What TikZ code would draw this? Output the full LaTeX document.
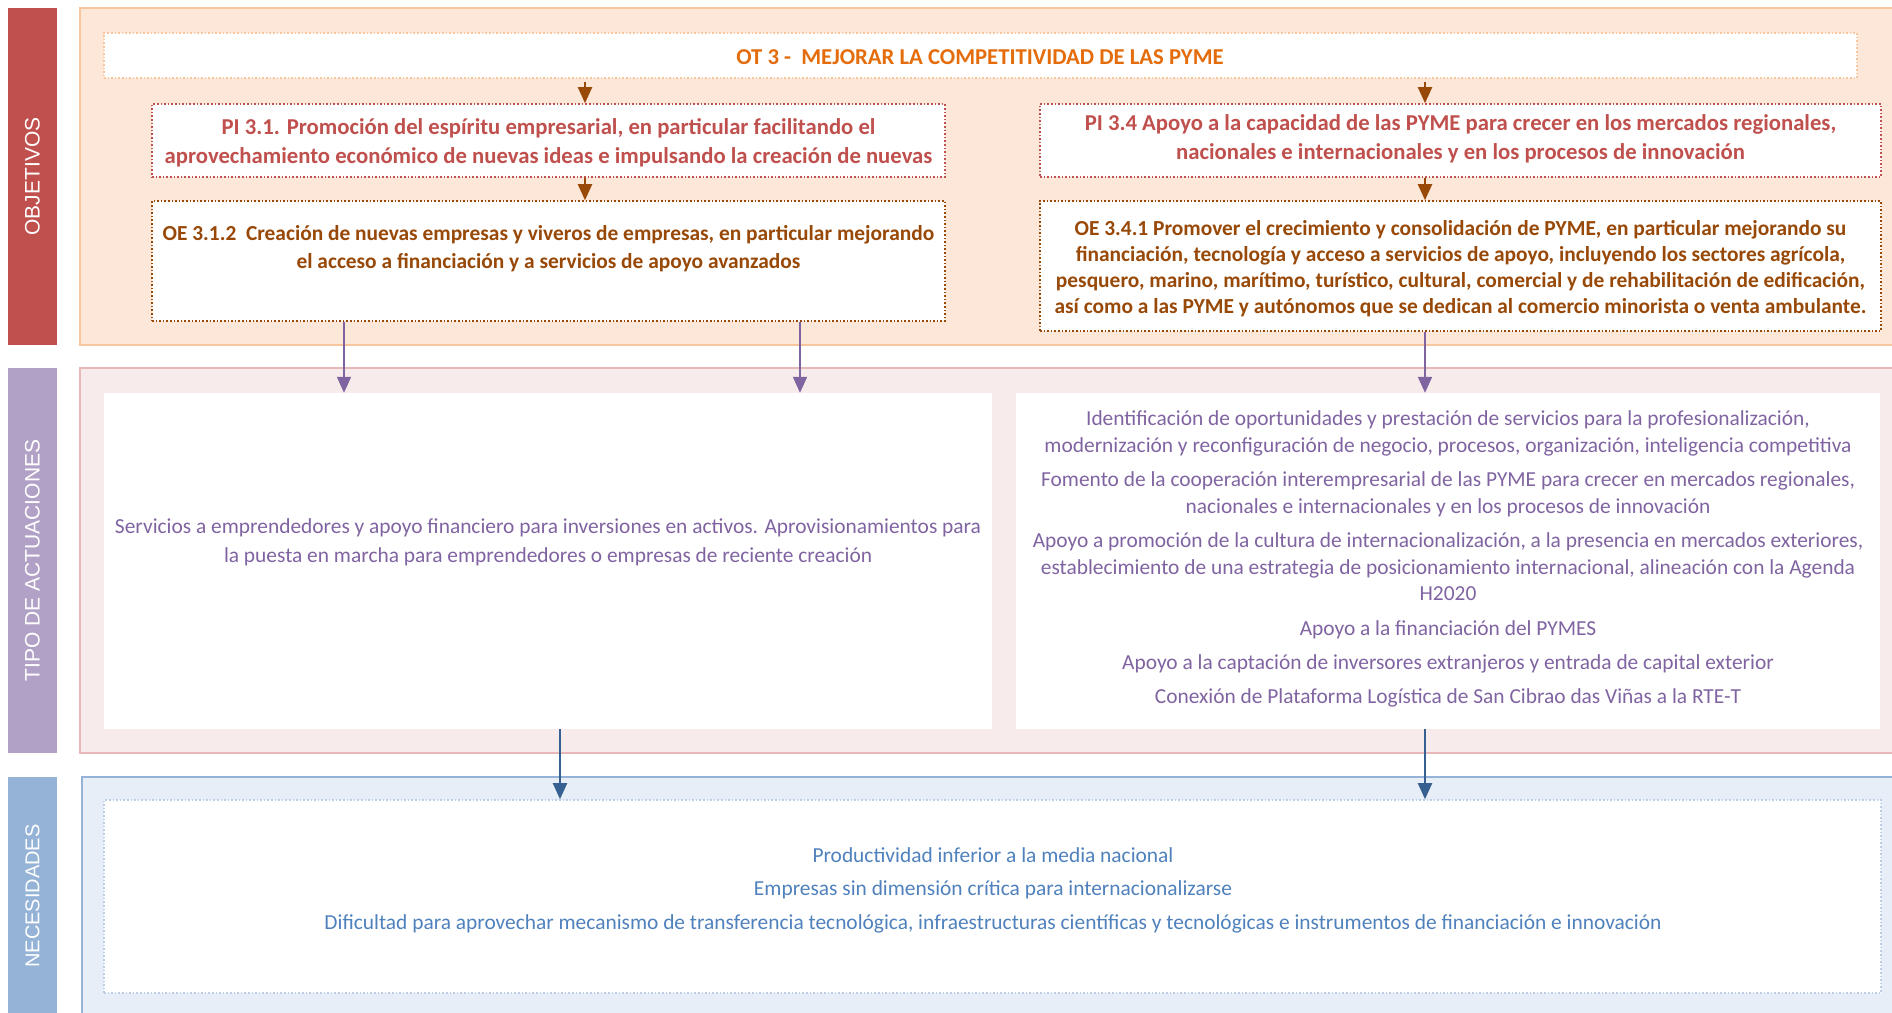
\documentclass[tikz,border=0pt]{standalone}
\usepackage{fontspec}
\setmainfont{Carlito}
\newfontfamily\labelfont{Liberation Sans}
\usetikzlibrary{arrows.meta,fit}
\definecolor{redbar}{HTML}{C0504D}
\definecolor{purplebar}{HTML}{B2A1C7}
\definecolor{bluebar}{HTML}{95B3D7}
\definecolor{objfill}{HTML}{FCE7D9}
\definecolor{objline}{HTML}{F9C59C}
\definecolor{actfill}{HTML}{F8EBEB}
\definecolor{actline}{HTML}{E6B9B8}
\definecolor{necfill}{HTML}{E7EEF7}
\definecolor{necline}{HTML}{95B3D7}
\definecolor{otcol}{HTML}{E46C0A}
\definecolor{otline}{HTML}{F9C59C}
\definecolor{picol}{HTML}{C0504D}
\definecolor{oecol}{HTML}{984807}
\definecolor{actcol}{HTML}{8064A2}
\definecolor{neccol}{HTML}{4F81BD}
\definecolor{necdot}{HTML}{B9CDE5}
\definecolor{bluearr}{HTML}{376092}
\tikzset{
  panel/.style={inner sep=0pt, line width=2.5pt},
  sidebar/.style={inner sep=0pt, draw=none},
  sidelabel/.style={rotate=90, text=white, font=\labelfont\fontsize{21}{21}\selectfont},
  dotbox/.style={inner sep=0pt, fill=white, dotted, line width=1.6pt},
  whitebox/.style={inner sep=0pt, fill=white, draw=none},
  pitext/.style={align=center, font=\bfseries\fontsize{22.7}{28.5}\selectfont},
  oetext/.style={align=center, font=\bfseries\fontsize{21.4}{28}\selectfont},
  ntext/.style={align=center, font=\fontsize{21.4}{26.5}\selectfont},
  arr/.style={line width=2pt, -{Triangle[length=16pt,width=14pt]}},
}
\begin{document}
\begin{tikzpicture}[x=1pt,y=-1pt]
\useasboundingbox (0,0) rectangle (1892,1012);
% ---------- OBJETIVOS ----------
\node[panel, fill=objfill, draw=objline, fit={(80,8) (1900,345)}] (objpanel) {};
\node[sidebar, fill=redbar, fit={(8,8) (57,345)}] (objbar) {};
\node[sidelabel] (objlabel) at (objbar.center) {OBJETIVOS};

\node[dotbox, draw=otline, fit={(104,33) (1857,78)}] (ot) {};
\node[pitext, text=otcol] (ottext) at (980,57) {OT 3 -\ \ MEJORAR LA COMPETITIVIDAD DE LAS PYME};

\node[dotbox, draw=picol, fit={(152,104) (945,177)}] (pi31) {};
\node[pitext, text=picol] (pi31text) at (548.5,143) {PI 3.1. Promoción del espíritu empresarial, en particular facilitando el\\aprovechamiento económico de nuevas ideas e impulsando la creación de nuevas};

\node[dotbox, draw=oecol, fit={(152,201) (945,321)}] (oe312) {};
\node[oetext, text=oecol] (oe312text) at (548.5,248.5) {OE 3.1.2\ \ Creación de nuevas empresas y viveros de empresas, en particular mejorando\\el acceso a financiación y a servicios de apoyo avanzados};

\node[dotbox, draw=picol, fit={(1040,104) (1881,177)}] (pi34) {};
\node[pitext, text=picol] (pi34text) at (1460.5,139) {PI 3.4 Apoyo a la capacidad de las PYME para crecer en los mercados regionales,\\nacionales e internacionales y en los procesos de innovación};

\node[dotbox, draw=oecol, fit={(1040,201) (1881,331)}] (oe341) {};
\node[oetext, text=oecol, font=\bfseries\fontsize{21.4}{26}\selectfont] (oe341text) at (1460.5,268.5) {OE 3.4.1 Promover el crecimiento y consolidación de PYME, en particular mejorando su\\financiación, tecnología y acceso a servicios de apoyo, incluyendo los sectores agrícola,\\pesquero, marino, marítimo, turístico, cultural, comercial y de rehabilitación de edificación,\\así como a las PYME y autónomos que se dedican al comercio minorista o venta ambulante.};

% ---------- TIPO DE ACTUACIONES ----------
\node[panel, fill=actfill, draw=actline, fit={(80,368) (1900,753)}] (actpanel) {};
\node[sidebar, fill=purplebar, fit={(8,368) (57,753)}] (actbar) {};
\node[sidelabel] (actlabel) at (actbar.center) {TIPO DE ACTUACIONES};

\node[whitebox, fit={(104,393) (992,729)}] (actleft) {};
\node[ntext, text=actcol, font=\fontsize{21.4}{29}\selectfont] (actlefttext) at (548,542) {Servicios a emprendedores y apoyo financiero para inversiones en activos. Aprovisionamientos para\\la puesta en marcha para emprendedores o empresas de reciente creación};

\node[whitebox, fit={(1016,393) (1880,729)}] (actright) {};
\node[ntext, text=actcol] (actrighttext) at (1448,559) {Identificación de oportunidades y prestación de servicios para la profesionalización,\\modernización y reconfiguración de negocio, procesos, organización, inteligencia competitiva\\[8pt]
Fomento de la cooperación interempresarial de las PYME para crecer en mercados regionales,\\nacionales e internacionales y en los procesos de innovación\\[8pt]
Apoyo a promoción de la cultura de internacionalización, a la presencia en mercados exteriores,\\establecimiento de una estrategia de posicionamiento internacional, alineación con la Agenda\\H2020\\[8pt]
Apoyo a la financiación del PYMES\\[8pt]
Apoyo a la captación de inversores extranjeros y entrada de capital exterior\\[7pt]
Conexión de Plataforma Logística de San Cibrao das Viñas a la RTE-T};

% ---------- NECESIDADES ----------
\node[panel, fill=necfill, draw=necline, fit={(82,777) (1900,1025)}] (necpanel) {};
\node[sidebar, fill=bluebar, fit={(8,777) (57,1025)}] (necbar) {};
\node[sidelabel, font=\labelfont\fontsize{20}{20}\selectfont] (neclabel) at (32.5,896) {NECESIDADES};

\node[dotbox, draw=necdot, fit={(104,800) (1881,993)}] (necbox) {};
\node[ntext, text=neccol, font=\fontsize{21.4}{33.5}\selectfont] (nectext) at (993,890) {Productividad inferior a la media nacional\\Empresas sin dimensión crítica para internacionalizarse\\Dificultad para aprovechar mecanismo de transferencia tecnológica, infraestructuras científicas y tecnológicas e instrumentos de financiación e innovación};

% ---------- connectors ----------
\coordinate (xa) at (585,0);
\coordinate (xb) at (1425,0);
\coordinate (xp) at (344,0);
\coordinate (xq) at (800,0);
\coordinate (xn) at (560,0);

\draw[arr, draw=oecol, fill=oecol] ([yshift=-3pt]xa |- ot.south) -- (xa |- pi31.north);
\draw[arr, draw=oecol, fill=oecol] (xa |- pi31.south) -- (xa |- oe312.north);
\draw[arr, draw=oecol, fill=oecol] ([yshift=-3pt]xb |- ot.south) -- (xb |- pi34.north);
\draw[arr, draw=oecol, fill=oecol] (xb |- pi34.south) -- (xb |- oe341.north);

\draw[arr, draw=actcol, fill=actcol] (xp |- oe312.south) -- (xp |- actleft.north);
\draw[arr, draw=actcol, fill=actcol] (xq |- oe312.south) -- (xq |- actleft.north);
\draw[arr, draw=actcol, fill=actcol] (xb |- oe341.south) -- (xb |- actright.north);

\draw[arr, draw=bluearr, fill=bluearr] (xn |- actleft.south) -- (xn |- necbox.north);
\draw[arr, draw=bluearr, fill=bluearr] (xb |- actright.south) -- (xb |- necbox.north);
\end{tikzpicture}
\end{document}
